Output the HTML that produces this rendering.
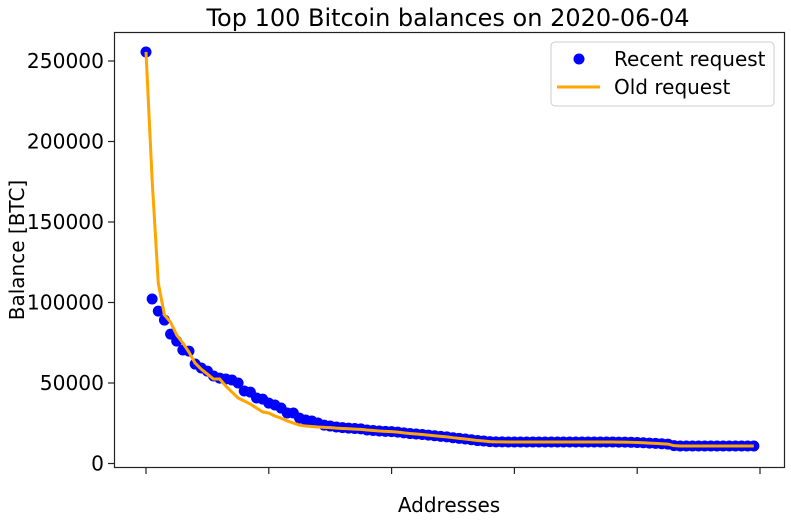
<!DOCTYPE html>
<html><head><meta charset="utf-8"><style>
body{margin:0;background:#fff;}
svg{display:block;font-family:"DejaVu Sans","Liberation Sans",sans-serif;}
</style></head><body>
<svg id="chart" width="791" height="523" viewBox="0 0 791 523" xmlns="http://www.w3.org/2000/svg">
<rect width="791" height="523" fill="#fff"/>
<text x="448" y="26" font-size="24" text-anchor="middle" fill="#000">Top 100 Bitcoin balances on 2020-06-04</text>
<text transform="translate(24,250) rotate(-90)" font-size="20" text-anchor="middle">Balance [BTC]</text>
<text x="449" y="512" font-size="20" text-anchor="middle">Addresses</text>
<g id="yticks"></g><g id="xticks"></g>
<g id="series"></g>
<rect x="114.5" y="32.5" width="670" height="435" fill="none" stroke="#222" stroke-width="1.2"/>
<g>
<rect x="551" y="42" width="223" height="64" rx="4" fill="#fff" fill-opacity="0.8" stroke="#ccc"/>
<circle cx="579" cy="59" r="5.5" fill="#0000ff"/>
<text x="614" y="66" font-size="20">Recent request</text>
<line x1="557" y1="87" x2="600" y2="87" stroke="#ffa500" stroke-width="3"/>
<text x="614" y="94" font-size="20">Old request</text>
</g>
</svg>
<script>
const yTicks=[0,50000,100000,150000,200000,250000];
const xTicks=[0,20,40,60,80,100];
const recent=[255600,102160,94630,89090,80380,76020,70480,69790,61770,59290,
57410,54340,53060,52460,51870,49990,45040,44340,40680,39990,
37510,36330,34440,31380,31380,28210,27020,26430,25140,23850,
23260,22660,22270,21970,21770,21480,20780,20490,20190,19990,
19790,19500,19000,18600,18310,18010,17610,17220,16820,16530,
16030,15630,15240,14740,14250,13950,13560,13460,13460,13360,
13360,13360,13360,13360,13360,13360,13360,13360,13360,13360,
13360,13360,13360,13360,13360,13360,13360,13260,13260,13160,
13060,12860,12660,12470,12270,12070,11080,10880,10880,10880,
10880,10880,10880,10880,10880,10880,10880,10880,10880,10880];
const old=[255600,176000,112060,92260,87800,79790,74840,69190,62360,58600,
55530,52460,52460,48110,44340,40680,38800,36920,34440,31970,
31380,29490,28210,26430,25140,23850,23260,22960,22660,22470,
22270,21970,21770,21570,21380,21180,20780,20490,20190,19990,
19790,19500,19000,18600,18310,18010,17610,17220,16820,16530,
16030,15630,15240,14740,14250,13950,13560,13460,13460,13360,
13360,13360,13360,13360,13360,13360,13360,13360,13360,13360,
13360,13360,13360,13360,13360,13360,13360,13260,13260,13160,
13060,12860,12660,12470,12270,12070,11080,10880,10880,10880,
10880,10880,10880,10880,10880,10880,10880,10880,10880,10880];
const NS="http://www.w3.org/2000/svg";
function xs(i){return 146+i*6.14;}
function ys(v){return 463.5-v*0.00161;}
function mk(tag,attrs,parent){const e=document.createElementNS(NS,tag);for(const k in attrs)e.setAttribute(k,attrs[k]);parent.appendChild(e);return e;}
const yg=document.getElementById('yticks');
yTicks.forEach(v=>{
 const l=mk('line',{x1:108,x2:114.5,y1:ys(v),y2:ys(v),stroke:'#222','stroke-width':1.2},yg);
 
 
 const t=mk('text',{x:104,y:ys(v)+7.2,'font-size':20.2,'text-anchor':'end'},yg);
 t.textContent=v;
 
 
});
const xg=document.getElementById('xticks');
xTicks.forEach(i=>{
 const l=mk('line',{x1:xs(i),x2:xs(i),y1:467.5,y2:474,stroke:'#222','stroke-width':1.2},xg);
 
 
});
const sg=document.getElementById('series');
recent.forEach((v,i)=>{
 const c=mk('circle',{cx:xs(i),cy:ys(v),r:5.5,fill:'#0000ff'},sg);
 
 
});
const p=mk('polyline',{points:old.map((v,i)=>xs(i)+','+ys(v)).join(' '),fill:'none',stroke:'#ffa500','stroke-width':3,'stroke-linejoin':'round'},sg);


</script>
</body></html>
